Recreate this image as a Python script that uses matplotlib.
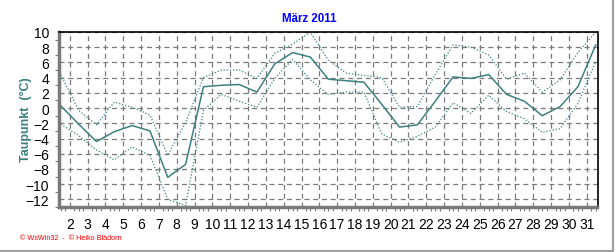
import numpy as np
import matplotlib
matplotlib.use("Agg")
import matplotlib.pyplot as plt
from matplotlib.lines import Line2D
from matplotlib.ticker import MultipleLocator

# Taupunkt März 2011, daily mean / max / min (°C)
days = np.arange(1, 32)
dew_mean = [0.3, -2.1, -4.4, -3.1, -2.3, -3.0, -9.1, -7.4, 2.8, 3.0, 3.1,
            2.1, 5.8, 7.3, 6.7, 3.8, 3.6, 3.4, 0.5, -2.5, -2.2,
            0.9, 4.1, 3.9, 4.4, 1.8, 0.9, -1.0, 0.2, 2.8, 8.3]
dew_max = [4.4, -0.3, -2.2, 0.8, 0.1, -0.9, -6.2, -1.9, 4.0, 5.0, 5.0,
           3.9, 7.2, 8.4, 10.0, 6.3, 4.6, 4.3, 4.0, 0.1, 0.2,
           4.4, 8.3, 8.0, 7.0, 3.8, 4.6, 2.1, 3.7, 7.3, 10.0]
dew_min = [-2.1, -3.6, -5.5, -6.8, -5.1, -6.2, -12.0, -12.8, -0.3, 1.8, 0.9,
           0.1, 3.9, 6.4, 3.7, 1.8, 2.1, 2.1, -3.4, -4.5, -3.7,
           -2.5, 0.7, -0.7, 1.7, -0.45, -1.4, -3.2, -2.7, 0.6, 6.1]
day_ticks = list(range(2, 32))

plt.rcParams['font.family'] = ['Liberation Sans', 'DejaVu Sans']

teal = '#3c8080'
grid_col = '#7a7a7a'

fig = plt.figure(figsize=(6.16, 2.53), dpi=100)
ax = fig.add_axes([59 / 616, 1 - 208 / 253, (597.5 - 59) / 616, (208 - 33) / 253])

# values are drawn at the middle of each day
x = days + 0.5
ax.plot(x, dew_max, color=teal, lw=0.9, ls=(0, (1, 1.5)))
ax.plot(x, dew_min, color=teal, lw=0.9, ls=(0, (1, 1.5)))
ax.plot(x, dew_mean, color=teal, lw=1.1)

ax.set_xlim(1.4, 31.6)
ax.set_ylim(-13, 10)
ax.set_xticks(day_ticks)
ax.set_xticklabels([str(d) for d in day_ticks])
ax.xaxis.set_minor_locator(MultipleLocator(0.25))
ax.set_yticks(np.arange(-12, 11, 2))
ax.yaxis.set_minor_locator(MultipleLocator(1))

ax.grid(True, which='major', color=grid_col, ls=(0, (4, 3)), lw=0.9)
ax.tick_params(axis='both', which='major', length=0, labelsize=10, colors='black')
ax.tick_params(axis='x', which='major', pad=7)
ax.tick_params(axis='y', which='major', pad=7)
ax.tick_params(axis='both', which='minor', length=3, width=0.8, color=grid_col)

for side in ('left', 'bottom'):
    ax.spines[side].set_color(grid_col)
    ax.spines[side].set_linewidth(2.5)
for side in ('top', 'right'):
    ax.spines[side].set_color('black')
    ax.spines[side].set_linewidth(1.2)

fig.text(309 / 616, 1 - 19 / 253, 'März 2011', color='#0000ff', fontsize=8.3,
         fontweight='bold', ha='center', va='center')
fig.text(26 / 616, 1 - 120 / 253, 'Taupunkt  (°C)', color=teal, fontsize=9,
         fontweight='bold', rotation=90, ha='center', va='center')
fig.text(20 / 616, 1 - 239 / 253, '© WsWin32  -  © Heiko Blädorn', color='red',
         fontsize=5.2, ha='left', va='center')

# grey frame on the right and bottom
fig.add_artist(Line2D([613 / 616, 613 / 616], [1 / 253, 1], color='#a0a0a0', lw=1.5))
fig.add_artist(Line2D([0, 613 / 616], [1 / 253, 1 / 253], color='#a0a0a0', lw=1.5))

fig.savefig('out.png', dpi=100)
